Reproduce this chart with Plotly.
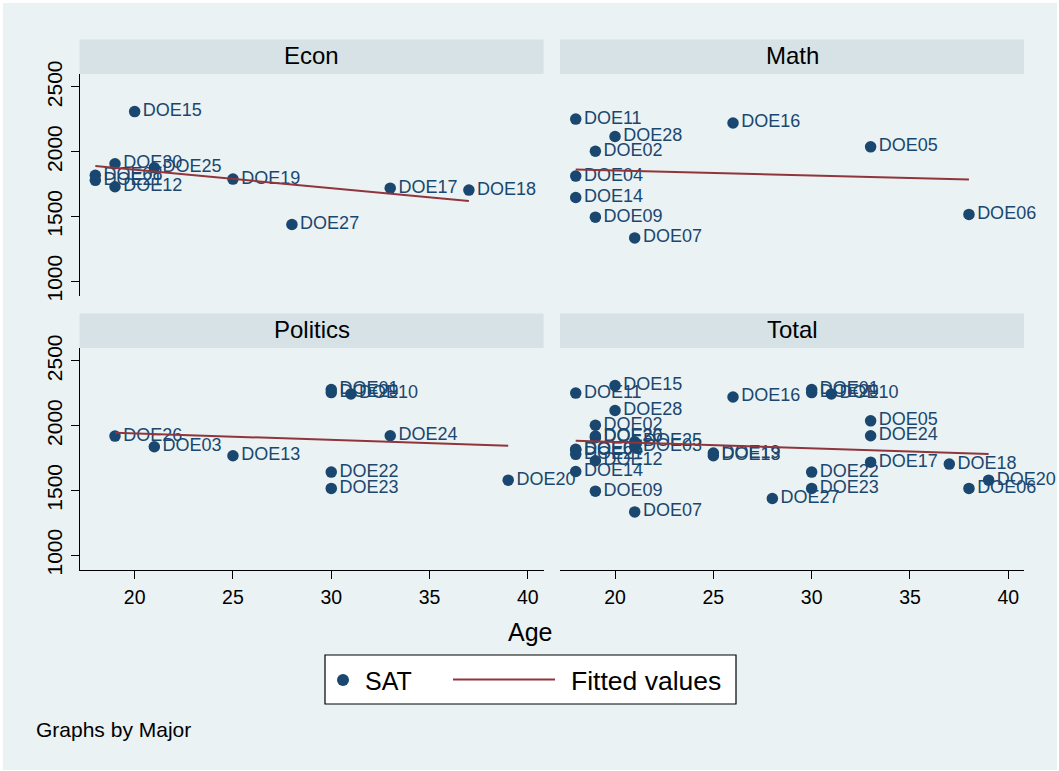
import numpy as np
import plotly.graph_objects as go

W, H = 1059, 771

# ---- data: students by major (ID, age, SAT) ----
econ_ids = ["DOE15", "DOE30", "DOE25", "DOE08", "DOE21", "DOE12", "DOE19", "DOE17", "DOE18", "DOE27"]
econ_age = [20, 19, 21, 18, 18, 19, 25, 33, 37, 28]
econ_sat = [2310, 1907, 1876, 1818, 1779, 1730, 1789, 1719, 1704, 1438]

math_ids = ["DOE11", "DOE16", "DOE28", "DOE02", "DOE05", "DOE04", "DOE14", "DOE09", "DOE07", "DOE06"]
math_age = [18, 26, 20, 19, 33, 18, 18, 19, 21, 38]
math_sat = [2252, 2222, 2118, 2004, 2038, 1812, 1647, 1495, 1335, 1516]

pol_ids = ["DOE26", "DOE03", "DOE13", "DOE01", "DOE29", "DOE10", "DOE24", "DOE22", "DOE23", "DOE20"]
pol_age = [19, 21, 25, 30, 30, 31, 33, 30, 30, 39]
pol_sat = [1920, 1838, 1768, 2280, 2256, 2245, 1923, 1642, 1516, 1580]

panel_names = ["Econ", "Math", "Politics", "Total"]
x_ticks = [20, 25, 30, 35, 40]
y_ticks = [1000, 1500, 2000, 2500]
y_grid = [1500, 2000, 2500]

total_ids = econ_ids + math_ids + pol_ids
total_age = econ_age + math_age + pol_age
total_sat = econ_sat + math_sat + pol_sat

panels = [
    (econ_ids, econ_age, econ_sat),
    (math_ids, math_age, math_sat),
    (pol_ids, pol_age, pol_sat),
    (total_ids, total_age, total_sat),
]

NAVY = "#1A476F"
MAROON = "#90353B"
BG = "#EAF2F3"
STRIP = "#D6E2E6"
FONT = "Liberation Sans, Arial, sans-serif"

X_RANGE = [17.2, 40.8]
Y_RANGE = [888, 2600]


def px_x(v):
    return v / W


def px_y(v):
    return 1 - v / H


# panel placement in pixels: (left, right, top, bottom)
boxes = [
    (79.6, 543.6, 74.0, 295.8),
    (560.0, 1024.0, 74.0, 295.8),
    (79.6, 543.6, 348.0, 569.8),
    (560.0, 1024.0, 348.0, 569.8),
]

fig = go.Figure()
shapes = []
annotations = []

# outer graph region
shapes.append(dict(type="rect", xref="paper", yref="paper",
                   x0=px_x(3), x1=px_x(1057), y0=px_y(770), y1=px_y(3),
                   fillcolor=BG, line=dict(width=0), layer="below"))

for i, ((ids, age, sat), name, box) in enumerate(zip(panels, panel_names, boxes)):
    n = "" if i == 0 else str(i + 1)
    xa, ya = "x" + n, "y" + n
    left, right, top, bottom = box

    fig.add_trace(go.Scatter(
        x=age, y=sat, text=ids, mode="markers+text",
        textposition="middle right",
        textfont=dict(family=FONT, size=18, color=NAVY),
        marker=dict(size=11.5, color=NAVY, line=dict(width=0)),
        cliponaxis=False, showlegend=False, xaxis=xa, yaxis=ya,
        hoverinfo="skip"))

    slope, icpt = np.polyfit(np.array(age, float), np.array(sat, float), 1)
    fx = np.array([min(age), max(age)], float)
    fig.add_trace(go.Scatter(
        x=fx, y=icpt + slope * fx, mode="lines",
        line=dict(color=MAROON, width=2),
        showlegend=False, xaxis=xa, yaxis=ya, hoverinfo="skip"))

    is_left = i % 2 == 0
    is_bottom = i >= 2

    fig.layout["xaxis" + n] = dict(
        domain=[px_x(left), px_x(right)], range=X_RANGE, anchor=ya,
        automargin=False, showgrid=False, zeroline=False,
        showline=is_bottom, linecolor="black", linewidth=1.2,
        ticks="outside" if is_bottom else "", ticklen=8, tickcolor="black",
        tickvals=x_ticks, showticklabels=is_bottom, ticklabelstandoff=2,
        tickfont=dict(family=FONT, size=19.5, color="black"))
    fig.layout["yaxis" + n] = dict(
        domain=[px_y(bottom), px_y(top)], range=Y_RANGE, anchor=xa,
        automargin=False, showgrid=False, zeroline=False,
        showline=is_left, linecolor="black", linewidth=1.2,
        ticks="outside" if is_left else "", ticklen=8, tickcolor="black",
        tickvals=y_ticks, showticklabels=is_left, tickangle=-90,
        tickfont=dict(family=FONT, size=21, color="black"))

    for g in y_grid:
        shapes.append(dict(type="line", xref=xa + " domain", yref=ya,
                           x0=0, x1=1, y0=g, y1=g,
                           line=dict(color=BG, width=2), layer="below"))

    # panel title strip
    strip_top = top - 34.5
    shapes.append(dict(type="rect", xref="paper", yref="paper",
                       x0=px_x(left), x1=px_x(right),
                       y0=px_y(top), y1=px_y(strip_top),
                       fillcolor=STRIP, line=dict(width=0), layer="below"))
    annotations.append(dict(text=name, xref="paper", yref="paper",
                            x=px_x((left + right) / 2), y=px_y((top + strip_top) / 2 - 1),
                            xanchor="center", yanchor="middle", showarrow=False,
                            font=dict(family=FONT, size=24, color="black")))

# x-axis title
annotations.append(dict(text="Age", xref="paper", yref="paper",
                        x=px_x(530), y=px_y(632), xanchor="center", yanchor="middle",
                        showarrow=False, font=dict(family=FONT, size=25, color="black")))

# legend box
shapes.append(dict(type="rect", xref="paper", yref="paper",
                   x0=px_x(325), x1=px_x(736), y0=px_y(704), y1=px_y(655),
                   fillcolor="white", line=dict(color="black", width=1.2)))
shapes.append(dict(type="circle", xref="paper", yref="paper",
                   x0=px_x(337), x1=px_x(349), y0=px_y(686), y1=px_y(674),
                   fillcolor=NAVY, line=dict(width=0)))
shapes.append(dict(type="line", xref="paper", yref="paper",
                   x0=px_x(453), x1=px_x(555), y0=px_y(679.5), y1=px_y(679.5),
                   line=dict(color=MAROON, width=2)))
annotations.append(dict(text="SAT", xref="paper", yref="paper",
                        x=px_x(363), y=px_y(681), xanchor="left", yanchor="middle",
                        showarrow=False, font=dict(family=FONT, size=25, color="black")))
annotations.append(dict(text="Fitted values", xref="paper", yref="paper",
                        x=px_x(569), y=px_y(681), xanchor="left", yanchor="middle",
                        showarrow=False, font=dict(family=FONT, size=26.5, color="black")))

# note
annotations.append(dict(text="Graphs by Major", xref="paper", yref="paper",
                        x=px_x(34), y=px_y(729), xanchor="left", yanchor="middle",
                        showarrow=False, font=dict(family=FONT, size=21, color="black")))

fig.update_layout(
    width=W, height=H,
    margin=dict(l=0, r=0, t=0, b=0, pad=0, autoexpand=False),
    paper_bgcolor="white", plot_bgcolor="white",
    shapes=shapes, annotations=annotations,
    showlegend=False,
)

fig.write_html("out.html")
